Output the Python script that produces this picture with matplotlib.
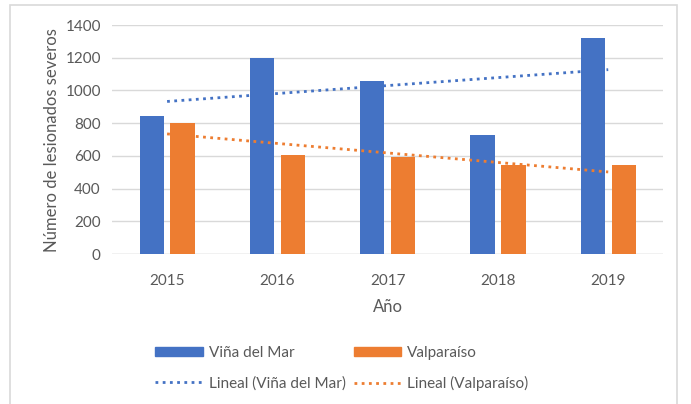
import numpy as np
import matplotlib
matplotlib.use("Agg")
import matplotlib.pyplot as plt
from matplotlib.patches import Rectangle
from matplotlib.lines import Line2D

# datos
anios = ["2015", "2016", "2017", "2018", "2019"]
vina = [843, 1200, 1058, 728, 1322]
valpo = [803, 607, 594, 544, 544]

azul = "#4472C4"
naranja = "#ED7D31"
gris = "#595959"

plt.rcParams['font.family'] = ['Lato', 'DejaVu Sans']

fig = plt.figure(figsize=(6.91, 4.04), dpi=100)
ax = fig.add_axes([0.162, 0.371, 0.798, 0.567])

x = np.arange(len(anios))
ancho = 0.22
ax.bar(x - 0.14, vina, ancho, color=azul, zorder=3)
ax.bar(x + 0.14, valpo, ancho, color=naranja, zorder=3)

# lineas de tendencia (ajuste lineal)
for serie, col in ((vina, azul), (valpo, naranja)):
    m, b = np.polyfit(x, serie, 1)
    ax.plot(x, m * x + b, color=col, linestyle=(0, (1, 1.6)), linewidth=2, zorder=4)

ax.set_xlim(-0.5, 4.5)
ax.set_ylim(0, 1400)
ax.set_yticks(range(0, 1401, 200))
ax.set_xticks(x)
ax.set_xticklabels(anios)
ax.tick_params(length=0, labelsize=11, colors=gris, pad=8)
ax.tick_params(axis='x', pad=14)
ax.grid(axis='y', color="#d9d9d9", linewidth=1, zorder=0)
for s in ax.spines.values():
    s.set_visible(False)
ax.axhline(0, color="#d9d9d9", linewidth=1, zorder=1)

ax.set_xlabel("Año", fontsize=12, color=gris, labelpad=8)
ax.set_ylabel("Número de lesionados severos", fontsize=12, color=gris, labelpad=4)

handles = [Rectangle((0, 0), 1, 1, color=azul),
           Line2D([], [], color=azul, linestyle=(0, (1, 1.6)), linewidth=2),
           Rectangle((0, 0), 1, 1, color=naranja),
           Line2D([], [], color=naranja, linestyle=(0, (1, 1.6)), linewidth=2)]
labels = ["Viña del Mar", "Lineal (Viña del Mar)", "Valparaíso", "Lineal (Valparaíso)"]
leg = fig.legend(handles, labels, ncol=2, loc="center left",
                 bbox_to_anchor=(0.205, 0.088), frameon=False, fontsize=11,
                 handlelength=3.1, handleheight=0.5, handletextpad=0.4,
                 columnspacing=0.5, labelspacing=1.05)
for t in leg.get_texts():
    t.set_color(gris)

# marco exterior
fig.patches.append(Rectangle((10 / 691, -0.01), 667 / 691, 0.998, transform=fig.transFigure,
                             fill=False, edgecolor="#d9d9d9", linewidth=1.2))

fig.savefig("out.png", dpi=100)
